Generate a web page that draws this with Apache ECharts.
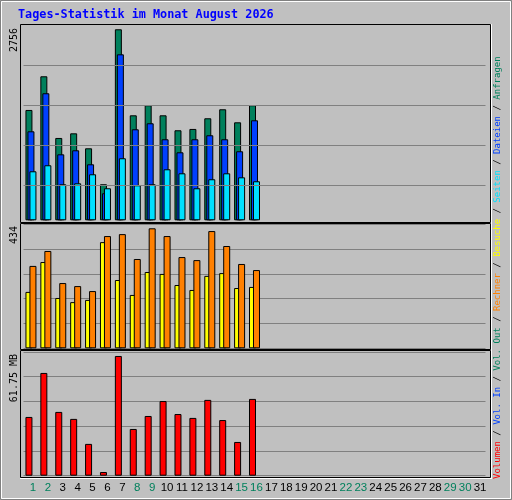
<!DOCTYPE html>
<html><head><meta charset="utf-8">
<script src="https://cdn.jsdelivr.net/npm/echarts@6/dist/echarts.min.js"></script>
<style>html,body{margin:0;padding:0;background:#c0c0c0}#c{width:512px;height:500px}</style>
</head><body><div id="c"></div>
<script>
const days = Array.from({length:31},(_, i)=>String(i+1));
const weekendDays = ['1','2','8','9','15','16','22','23','29','30'];
const anfragen = [1592,2078,1188,1255,1039,520,2756,1515,1660,1515,1299,1318,1472,1602,1414,1660];
const dateien  = [1284,1833,952,1010,808,390,2395,1313,1400,1169,981,1169,1227,1169,996,1443];
const seiten   = [707,794,520,534,664,462,895,505,520,736,678,462,592,678,620,563];
const besuche  = [204,312,182,167,175,384,247,193,276,269,229,211,262,272,218,222];
const rechner  = [298,352,236,225,207,406,413,323,434,406,330,319,424,370,305,283];
const volumen  = [30.3,53.0,32.9,29.3,16.4,1.9,61.75,24.1,30.8,38.5,31.8,29.8,39.1,28.7,17.4,39.6];
const topGridValues = [509,1086,1664,2241];
const topMax = '2756', midMax = '434', botMax = '61.75 MB';

const C = {green:'#00805c', blue:'#0040ff', cyan:'#00e0ff', yellow:'#ffff00', orange:'#ff8000', red:'#ff0000'};
const chart = echarts.init(document.getElementById('c'));
const GL = 23.5, GW = 462;
const bar = (data, color, xi, extra) => Object.assign({type:'bar', data, xAxisIndex:xi, yAxisIndex:xi, barWidth:7,
  itemStyle:{color, borderColor:'#000', borderWidth:1}, silent:true, animation:false}, extra||{});
const xAx = (gi, show) => ({type:'category', data:days, gridIndex:gi, axisTick:{show:false}, axisLine:{show:false},
  axisLabel:{show:show, interval:0, margin:6, padding:[0,0,0,4], fontFamily:'Liberation Sans', fontSize:11.5,
    color:(v)=> weekendDays.includes(v)? C.green : '#000'}});
const yAx = (gi, min, max, interval, split) => ({type:'value', gridIndex:gi, min, max, interval,
  axisLabel:{show:false}, axisLine:{show:false}, axisTick:{show:false},
  splitLine:{show:split, lineStyle:{color:'#808080', width:1}}});
const mono = 'DejaVu Sans Mono';
const rot = (t, x, y) => ({type:'text', x, y, rotation:Math.PI/2, style:{text:t, font:'10px '+mono, fill:'#000', align:'right', verticalAlign:'middle'}});
const legendParts = [['Volumen',C.red],['Vol. In',C.blue],['Vol. Out',C.green],['Rechner',C.orange],['Besuche',C.yellow],['Seiten',C.cyan],['Dateien',C.blue],['Anfragen',C.green]];
let legText = '', rich = {s:{fill:'#000'}};
legendParts.forEach((p,i)=>{ rich['k'+i]={fill:p[1]}; legText += (i?'{s| / }':'') + '{k'+i+'|'+p[0]+'}'; });
const panel = (y, h) => [
  {type:'rect', shape:{x:20.5,y:y+0.5,width:470,height:h}, style:{fill:'none', stroke:'#000', lineWidth:1}, z:10},
  {type:'line', shape:{x1:491.5,y1:y,x2:491.5,y2:y+h+1}, style:{stroke:'#fff', lineWidth:1}, z:10},
  {type:'line', shape:{x1:20,y1:y+h+1.5,x2:492,y2:y+h+1.5}, style:{stroke:'#fff', lineWidth:1}, z:10}];
chart.setOption({
  backgroundColor:'#c0c0c0', animation:false,
  grid:[{left:GL, width:GW, top:25, height:200},{left:GL, width:GW, top:224.3, height:124},{left:GL, width:GW, top:352, height:123.7}],
  xAxis:[xAx(0,false), xAx(1,false), xAx(2,true)],
  yAxis:[yAx(0,-68,2818,null,false), yAx(1,0,448.5,89.7,true), yAx(2,0,63.8,12.76,true)],
  series:[
    bar(anfragen, C.green, 0, {barGap:'-71.43%', markLine:{silent:true, symbol:'none', label:{show:false}, lineStyle:{color:'#808080', width:1, type:'solid'}, data: topGridValues.map(v=>({yAxis:v}))}}),
    bar(dateien, C.blue, 0, {barGap:'-71.43%'}),
    bar(seiten, C.cyan, 0, {barGap:'-71.43%'}),
    bar(besuche, C.yellow, 1, {barGap:'-42.86%'}),
    bar(rechner, C.orange, 1, {barGap:'-42.86%'}),
    bar(volumen, C.red, 2, {barGap:'-42.86%'}),
    bar([], 'transparent', 2, {barGap:'-42.86%'})
  ],
  graphic:[
    {type:'rect', shape:{x:0.5,y:0.5,width:511,height:499}, style:{fill:'none', stroke:'#808080', lineWidth:1}},
    {type:'rect', shape:{x:1.5,y:1.5,width:509,height:497}, style:{fill:'none', stroke:'#fff', lineWidth:1}},
    {type:'text', x:18, y:15, style:{text:'Tages-Statistik im Monat August 2026', font:'bold 11.8px '+mono, fill:'#0000ff', verticalAlign:'middle'}},
    ...panel(24,198), ...panel(223,126), ...panel(350,127),
    rot(topMax, 14, 28), rot(midMax, 14, 226), rot(botMax, 14, 354),
    {type:'text', x:498, y:479, rotation:Math.PI/2, style:{text:legText, rich, font:'9px '+mono, align:'left', verticalAlign:'middle'}}
  ]
});
</script></body></html>
